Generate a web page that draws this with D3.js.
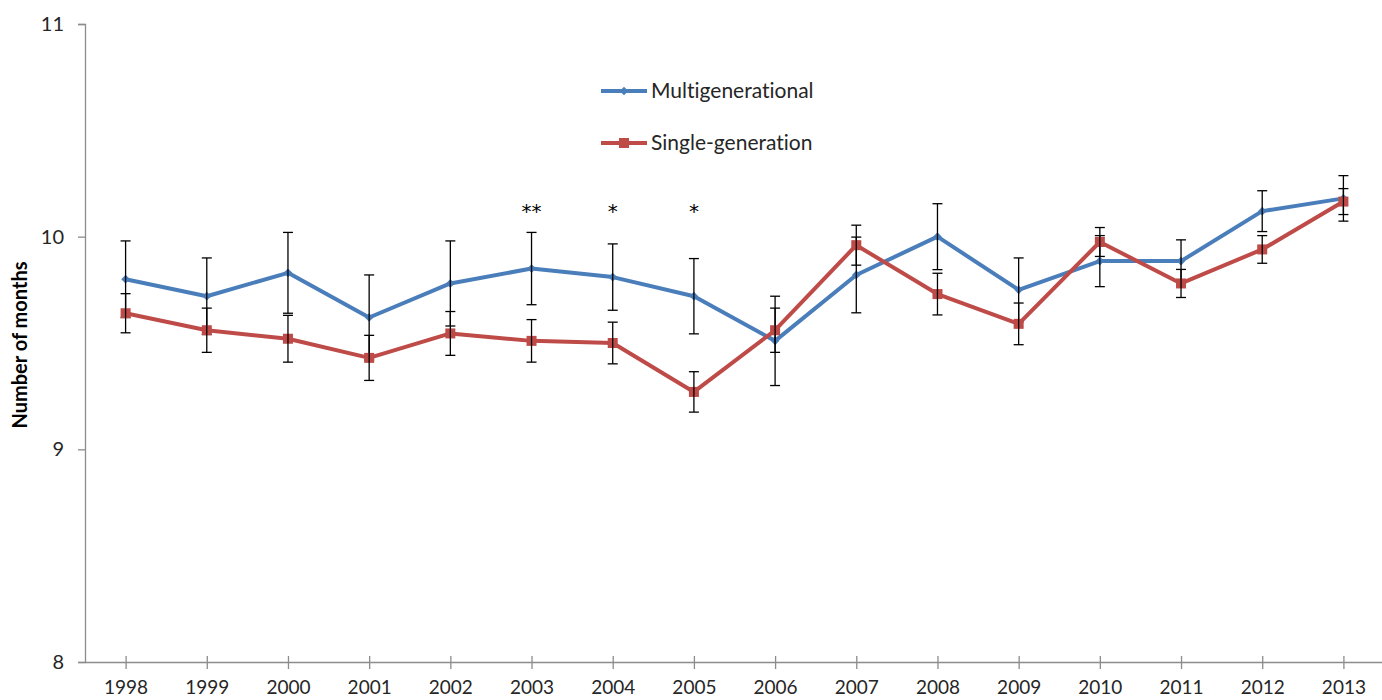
<!DOCTYPE html>
<html>
<head>
<meta charset="utf-8">
<script src="https://cdn.jsdelivr.net/npm/d3@7"></script>
<style>
  html, body { margin: 0; padding: 0; background: #fff; }
  svg { display: block; font-family: Lato, "Open Sans", sans-serif; font-variant-ligatures: none; }
</style>
</head>
<body>
<svg id="chart" width="1382" height="700"></svg>
<script>
// Years on the category axis
const years = [1998, 1999, 2000, 2001, 2002, 2003, 2004, 2005, 2006, 2007, 2008, 2009, 2010, 2011, 2012, 2013];

// Mean number of months, multigenerational households
const multiValues = [9.80, 9.72, 9.83, 9.62, 9.78, 9.85, 9.81, 9.72, 9.51, 9.82, 10.00, 9.75, 9.885, 9.885, 10.12, 10.18];
const multiErrors = [0.18, 0.18, 0.19, 0.20, 0.20, 0.17, 0.156, 0.177, 0.21, 0.178, 0.155, 0.15, 0.12, 0.10, 0.096, 0.107];

// Mean number of months, single-generation households
const singleValues = [9.64, 9.56, 9.52, 9.43, 9.545, 9.51, 9.50, 9.27, 9.56, 9.96, 9.73, 9.59, 9.975, 9.78, 9.94, 10.165];
const singleErrors = [0.092, 0.104, 0.11, 0.106, 0.103, 0.10, 0.098, 0.095, 0.104, 0.094, 0.098, 0.098, 0.068, 0.066, 0.065, 0.061];

// Significance markers per year
const significance = ["", "", "", "", "", "**", "*", "*", "", "", "", "", "", "", "", ""];

const yTicks = [8, 9, 10, 11];
const seriesNames = ["Multigenerational", "Single-generation"];

const svg = d3.select("#chart");

const x = d3.scalePoint().domain(years).range([85, 1384]).padding(0.5);
const y = d3.scaleLinear().domain([8, 11]).range([662, 24]);

const axisColor = "#8c8c8c";
const textColor = "#262626";

// Y axis
const yAxis = svg.append("g")
  .attr("transform", "translate(85,0)")
  .call(d3.axisLeft(y).tickValues(yTicks).tickSize(7).tickPadding(14).tickFormat(d3.format("d")));
yAxis.select(".domain").attr("stroke", axisColor).attr("stroke-width", 1.3);
yAxis.selectAll(".tick line").attr("stroke", axisColor).attr("stroke-width", 1.3);
yAxis.selectAll(".tick text")
  .attr("fill", textColor)
  .style("font-size", "20px")
  .style("font-family", "Lato, sans-serif");

// X axis
const xAxis = svg.append("g")
  .attr("transform", "translate(0,662)")
  .call(d3.axisBottom(x).tickSize(0).tickPadding(19).tickSizeOuter(0));
xAxis.select(".domain").attr("stroke", axisColor).attr("stroke-width", 1.3);
xAxis.selectAll(".tick line")
  .attr("stroke", axisColor).attr("stroke-width", 1.3)
  .attr("y1", -6).attr("y2", 7);
xAxis.selectAll(".tick text")
  .attr("fill", textColor)
  .style("font-size", "19px")
  .style("font-family", "Lato, sans-serif");

// Y axis title
svg.append("text")
  .attr("transform", "translate(27,345) rotate(-90)")
  .attr("text-anchor", "middle")
  .attr("fill", "#000")
  .style("font-size", "20px")
  .style("font-weight", "bold")
  .style("font-family", "Lato, sans-serif")
  .text("Number of months");

const series = [
  { name: seriesNames[0], values: multiValues, errors: multiErrors, color: "#4a7ebb", marker: "diamond" },
  { name: seriesNames[1], values: singleValues, errors: singleErrors, color: "#be4b48", marker: "square" }
];

const line = d3.line()
  .x(d => x(d.year))
  .y(d => y(d.value));

function drawMarker(sel, s, cx, cy) {
  if (s.marker === "diamond") {
    sel.append("path")
      .attr("d", d3.symbol(d3.symbolDiamond2, 48)())
      .attr("transform", `translate(${cx},${cy})`)
      .attr("fill", s.color);
  } else {
    sel.append("rect")
      .attr("x", cx - 5).attr("y", cy - 5)
      .attr("width", 10).attr("height", 10)
      .attr("fill", s.color);
  }
}

series.forEach(s => {
  const pts = years.map((yr, i) => ({ year: yr, value: s.values[i], err: s.errors[i] }));
  const g = svg.append("g");

  g.append("path")
    .datum(pts)
    .attr("d", line)
    .attr("fill", "none")
    .attr("stroke", s.color)
    .attr("stroke-width", 4)
    .attr("stroke-linejoin", "round");

  pts.forEach(p => drawMarker(g, s, x(p.year), y(p.value)));

  // Error bars
  const eb = g.append("g").attr("stroke", "#000").attr("stroke-width", 1.3);
  pts.forEach(p => {
    const cx = x(p.year);
    const y1 = y(p.value + p.err), y2 = y(p.value - p.err);
    eb.append("line").attr("x1", cx).attr("x2", cx).attr("y1", y1).attr("y2", y2);
    eb.append("line").attr("x1", cx - 5).attr("x2", cx + 5).attr("y1", y1).attr("y2", y1);
    eb.append("line").attr("x1", cx - 5).attr("x2", cx + 5).attr("y1", y2).attr("y2", y2);
  });
});

// Significance stars
svg.append("g").selectAll("text")
  .data(years.map((yr, i) => ({ year: yr, label: significance[i] })).filter(d => d.label))
  .join("text")
  .attr("x", d => x(d.year))
  .attr("y", 218)
  .attr("text-anchor", "middle")
  .attr("fill", "#000")
  .style("font-size", "20px")
  .style("font-family", "'DejaVu Sans', sans-serif")
  .text(d => d.label);

// Legend
const legend = svg.append("g");
series.forEach((s, i) => {
  const ly = 91 + i * 52;
  legend.append("line")
    .attr("x1", 601).attr("x2", 647).attr("y1", ly).attr("y2", ly)
    .attr("stroke", s.color).attr("stroke-width", 4);
  drawMarker(legend, s, 624, ly);
  legend.append("text")
    .attr("x", 651).attr("y", ly + 7)
    .attr("fill", textColor)
    .style("font-size", "21px")
    .style("font-family", "Lato, sans-serif")
    .text(s.name);
});
</script>
</body>
</html>
